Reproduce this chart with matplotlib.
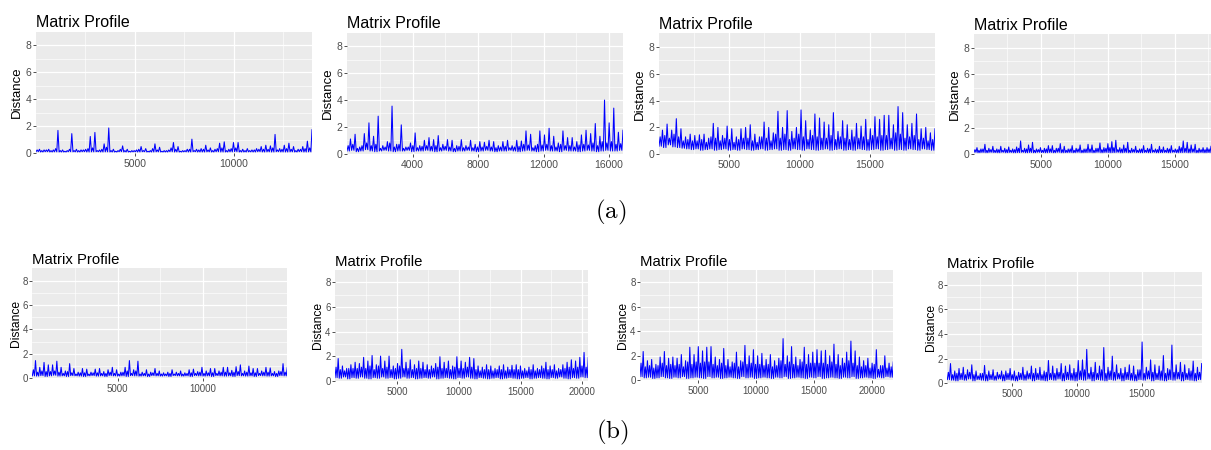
import numpy as np
import matplotlib.pyplot as plt

plt.rcParams['font.family'] = ['Liberation Sans', 'DejaVu Sans']
plt.rcParams['mathtext.fontset'] = 'cm'

W, H = 1211, 450

# matrix profile, one slot per ~4-5 px along the series:
# hi = spike tops, mid = top of the dense band, lo = troughs
hi_1 = [0.3, 0.25, 0.3, 0.25, 1.7, 0.25, 0.2, 1.46, 0.3, 0.25, 0.3, 1.25, 1.55, 0.25, 0.7,
        1.88, 0.3, 0.2, 0.55, 0.3, 0.2, 0.25, 0.5, 0.35, 0.2, 0.7, 0.45, 0.2, 0.25, 0.8,
        0.5, 0.2, 0.3, 1.05, 0.3, 0.35, 0.6, 0.4, 0.3, 0.75, 0.85, 0.3, 0.8, 0.8, 0.3,
        0.35, 0.25, 0.35, 0.5, 0.6, 0.55, 1.4, 0.35, 0.6, 0.75, 0.5, 0.3, 0.5, 0.9, 1.75]
mid_1 = [0.25, 0.2, 0.25, 0.2, 0.35, 0.2, 0.15, 0.3, 0.2, 0.2, 0.25, 0.35, 0.4, 0.2, 0.3,
         0.45, 0.2, 0.15, 0.3, 0.2, 0.15, 0.2, 0.3, 0.2, 0.15, 0.35, 0.25, 0.15, 0.2, 0.4,
         0.3, 0.15, 0.2, 0.3, 0.2, 0.25, 0.3, 0.25, 0.2, 0.35, 0.4, 0.2, 0.35, 0.4, 0.2,
         0.2, 0.2, 0.25, 0.3, 0.3, 0.3, 0.4, 0.25, 0.3, 0.35, 0.3, 0.2, 0.3, 0.35, 0.4]
lo_1 = [0.12, 0.1, 0.12, 0.1, 0.11, 0.1, 0.1, 0.12, 0.11, 0.1, 0.12, 0.1, 0.11, 0.12, 0.1,
        0.11, 0.1, 0.1, 0.12, 0.1, 0.1, 0.11, 0.1, 0.12, 0.1, 0.1, 0.11, 0.1, 0.1, 0.12,
        0.1, 0.1, 0.11, 0.1, 0.12, 0.1, 0.1, 0.11, 0.1, 0.12, 0.1, 0.1, 0.11, 0.12, 0.1,
        0.1, 0.11, 0.1, 0.12, 0.1, 0.11, 0.1, 0.12, 0.1, 0.1, 0.11, 0.1, 0.12, 0.1, 0.11]

hi_2 = [1.1, 1.45, 0.5, 1.5, 2.3, 1.3, 2.8, 0.6, 0.9, 3.55, 0.7, 2.15, 0.5, 0.8, 1.55,
        0.6, 1.0, 1.2, 1.05, 1.35, 0.7, 1.05, 1.0, 0.6, 1.05, 0.6, 1.0, 0.7, 0.9, 0.85,
        1.0, 0.9, 0.6, 0.9, 1.0, 0.6, 1.0, 0.95, 1.7, 1.45, 0.6, 1.7, 1.4, 1.9, 1.3,
        0.8, 1.7, 1.2, 1.2, 0.9, 1.4, 1.75, 1.5, 2.25, 1.3, 4.0, 2.3, 3.4, 1.6, 1.75]
mid_2 = [0.6, 0.7, 0.4, 0.6, 0.8, 0.6, 0.7, 0.4, 0.5, 0.8, 0.5, 0.7, 0.4, 0.5, 0.6,
         0.45, 0.55, 0.6, 0.55, 0.6, 0.45, 0.55, 0.5, 0.4, 0.55, 0.45, 0.5, 0.45, 0.5, 0.5,
         0.55, 0.5, 0.45, 0.5, 0.55, 0.45, 0.5, 0.55, 0.7, 0.65, 0.45, 0.7, 0.65, 0.7, 0.6,
         0.5, 0.7, 0.6, 0.6, 0.5, 0.65, 0.7, 0.65, 0.8, 0.6, 0.9, 0.8, 0.9, 0.7, 0.75]
lo_2 = [0.2, 0.25, 0.15, 0.2, 0.3, 0.2, 0.15, 0.2, 0.25, 0.2, 0.15, 0.2, 0.2, 0.25, 0.15,
        0.2, 0.2, 0.25, 0.2, 0.15, 0.2, 0.25, 0.2, 0.15, 0.2, 0.2, 0.25, 0.2, 0.15, 0.2,
        0.25, 0.2, 0.15, 0.2, 0.2, 0.25, 0.2, 0.15, 0.2, 0.25, 0.2, 0.15, 0.2, 0.25, 0.2,
        0.2, 0.15, 0.25, 0.2, 0.2, 0.15, 0.2, 0.25, 0.2, 0.15, 0.2, 0.25, 0.2, 0.2, 0.25]

hi_3 = [1.8, 2.25, 1.8, 2.65, 1.9, 1.3, 1.5, 1.4, 1.45, 1.5, 1.2, 2.3, 2.0, 1.4, 2.1,
        1.9, 1.3, 1.9, 2.0, 2.2, 1.5, 1.3, 2.4, 2.0, 1.6, 3.2, 2.0, 3.25, 1.7, 2.0,
        3.3, 2.5, 1.8, 3.0, 2.7, 2.4, 2.2, 3.1, 1.7, 2.5, 2.2, 1.8, 2.3, 2.1, 2.6,
        1.9, 2.8, 2.6, 2.9, 2.9, 2.2, 3.55, 3.1, 2.2, 2.3, 3.0, 1.9, 2.0, 1.6, 1.9]
mid_3 = [1.3, 1.4, 1.2, 1.5, 1.3, 1.0, 1.1, 1.0, 1.0, 1.1, 0.9, 1.3, 1.2, 1.0, 1.2,
         1.1, 0.9, 1.1, 1.2, 1.2, 1.0, 0.9, 1.3, 1.2, 1.0, 1.5, 1.2, 1.5, 1.1, 1.2,
         1.5, 1.3, 1.1, 1.4, 1.3, 1.2, 1.2, 1.4, 1.1, 1.3, 1.2, 1.1, 1.3, 1.2, 1.3,
         1.1, 1.4, 1.3, 1.4, 1.4, 1.2, 1.6, 1.5, 1.2, 1.3, 1.4, 1.1, 1.2, 1.0, 1.1]
lo_3 = [0.6, 0.5, 0.7, 0.55, 0.5, 0.45, 0.4, 0.35, 0.4, 0.3, 0.35, 0.4, 0.3, 0.35, 0.4,
        0.3, 0.35, 0.3, 0.4, 0.35, 0.3, 0.35, 0.4, 0.3, 0.35, 0.4, 0.3, 0.35, 0.3, 0.4,
        0.35, 0.3, 0.4, 0.35, 0.3, 0.35, 0.4, 0.3, 0.35, 0.4, 0.3, 0.35, 0.3, 0.4, 0.35,
        0.3, 0.35, 0.4, 0.3, 0.35, 0.4, 0.3, 0.35, 0.3, 0.4, 0.35, 0.3, 0.4, 0.35, 0.3]

hi_4 = [0.5, 0.4, 0.75, 0.45, 0.6, 0.4, 0.6, 0.45, 0.55, 0.4, 0.55, 1.0, 0.45, 0.7, 0.9,
        0.4, 0.5, 0.45, 0.65, 0.65, 0.45, 0.8, 0.6, 0.4, 0.65, 0.45, 0.7, 0.4, 0.75, 0.7,
        0.45, 0.85, 0.5, 0.8, 0.95, 1.05, 0.5, 0.7, 0.9, 0.45, 0.6, 0.4, 0.65, 0.45, 0.75,
        0.4, 0.6, 0.55, 0.45, 0.65, 0.4, 0.6, 1.0, 0.9, 0.7, 0.75, 0.45, 0.5, 0.5, 0.6]
mid_4 = [0.35, 0.3, 0.4, 0.3, 0.35, 0.3, 0.35, 0.3, 0.35, 0.3, 0.35, 0.45, 0.3, 0.4, 0.45,
         0.3, 0.35, 0.3, 0.4, 0.4, 0.3, 0.45, 0.35, 0.3, 0.4, 0.3, 0.4, 0.3, 0.4, 0.4,
         0.3, 0.45, 0.35, 0.45, 0.5, 0.5, 0.35, 0.4, 0.45, 0.3, 0.35, 0.3, 0.4, 0.3, 0.4,
         0.3, 0.35, 0.35, 0.3, 0.4, 0.3, 0.35, 0.5, 0.45, 0.4, 0.4, 0.3, 0.35, 0.35, 0.4]
lo_4 = [0.15, 0.12, 0.14, 0.12, 0.15, 0.13, 0.12, 0.15, 0.12, 0.14, 0.12, 0.13, 0.15, 0.12, 0.14,
        0.12, 0.15, 0.13, 0.12, 0.14, 0.12, 0.15, 0.12, 0.13, 0.14, 0.12, 0.15, 0.12, 0.13, 0.14,
        0.12, 0.15, 0.12, 0.14, 0.12, 0.13, 0.15, 0.12, 0.14, 0.12, 0.15, 0.13, 0.12, 0.14, 0.12,
        0.15, 0.12, 0.13, 0.14, 0.12, 0.15, 0.12, 0.13, 0.14, 0.12, 0.15, 0.12, 0.14, 0.12, 0.13]

hi_5 = [1.45, 0.9, 1.3, 1.1, 1.1, 1.4, 0.9, 0.6, 1.2, 0.8, 0.5, 0.8, 0.75, 0.5, 0.75,
        0.8, 0.55, 0.7, 0.9, 0.7, 0.5, 0.9, 1.45, 0.7, 1.4, 0.5, 0.7, 0.5, 0.8, 0.6,
        0.45, 0.5, 0.7, 0.5, 0.6, 0.45, 0.7, 0.75, 0.55, 0.9, 0.6, 0.8, 0.8, 0.6, 0.9,
        0.9, 0.65, 0.95, 1.1, 0.6, 1.0, 0.8, 0.8, 0.6, 0.9, 0.85, 0.55, 0.6, 1.2, 0.9]
mid_5 = [0.7, 0.5, 0.6, 0.55, 0.55, 0.6, 0.5, 0.4, 0.55, 0.45, 0.35, 0.45, 0.45, 0.35, 0.45,
         0.45, 0.4, 0.4, 0.5, 0.4, 0.35, 0.5, 0.6, 0.4, 0.6, 0.35, 0.4, 0.35, 0.45, 0.4,
         0.35, 0.35, 0.4, 0.35, 0.4, 0.35, 0.4, 0.45, 0.4, 0.5, 0.4, 0.45, 0.45, 0.4, 0.5,
         0.5, 0.45, 0.5, 0.55, 0.4, 0.5, 0.45, 0.45, 0.4, 0.5, 0.5, 0.4, 0.4, 0.55, 0.5]
lo_5 = [0.2, 0.18, 0.22, 0.15, 0.2, 0.25, 0.18, 0.2, 0.15, 0.22, 0.2, 0.18, 0.15, 0.2, 0.22,
        0.18, 0.2, 0.15, 0.22, 0.2, 0.18, 0.2, 0.15, 0.22, 0.2, 0.18, 0.2, 0.15, 0.22, 0.2,
        0.18, 0.2, 0.15, 0.22, 0.2, 0.18, 0.2, 0.15, 0.22, 0.2, 0.18, 0.2, 0.15, 0.22, 0.2,
        0.18, 0.2, 0.15, 0.22, 0.2, 0.18, 0.2, 0.15, 0.22, 0.2, 0.18, 0.2, 0.15, 0.22, 0.2]

hi_6 = [1.8, 1.2, 1.0, 1.3, 1.5, 1.4, 1.9, 1.6, 2.05, 1.3, 2.0, 1.6, 2.0, 1.2, 1.4,
        2.55, 1.5, 1.7, 1.3, 1.6, 1.5, 1.3, 1.2, 1.4, 1.95, 1.5, 1.6, 1.2, 1.95, 1.6,
        1.5, 1.9, 1.8, 1.2, 1.1, 1.3, 1.2, 1.0, 1.2, 1.3, 1.1, 1.25, 1.3, 1.2, 1.0,
        1.1, 1.3, 1.0, 1.2, 1.5, 1.2, 1.3, 1.0, 1.3, 1.5, 1.7, 1.6, 1.9, 2.3, 1.9]
mid_6 = [1.1, 0.9, 0.8, 1.0, 1.0, 1.0, 1.1, 1.0, 1.2, 0.9, 1.2, 1.0, 1.1, 0.9, 1.0,
         1.2, 1.0, 1.0, 0.9, 1.0, 1.0, 0.9, 0.9, 1.0, 1.1, 1.0, 1.0, 0.9, 1.1, 1.0,
         1.0, 1.1, 1.1, 0.9, 0.8, 0.9, 0.9, 0.8, 0.9, 0.9, 0.8, 0.9, 0.9, 0.9, 0.8,
         0.8, 0.9, 0.8, 0.9, 1.0, 0.9, 0.9, 0.8, 0.9, 1.0, 1.1, 1.0, 1.1, 1.2, 1.1]
lo_6 = [0.25, 0.2, 0.3, 0.15, 0.25, 0.2, 0.3, 0.2, 0.15, 0.25, 0.2, 0.3, 0.2, 0.25, 0.15,
        0.2, 0.3, 0.2, 0.25, 0.15, 0.2, 0.25, 0.2, 0.3, 0.15, 0.2, 0.25, 0.2, 0.15, 0.25,
        0.2, 0.3, 0.2, 0.15, 0.25, 0.2, 0.15, 0.2, 0.25, 0.15, 0.2, 0.25, 0.2, 0.15, 0.2,
        0.25, 0.15, 0.2, 0.25, 0.2, 0.15, 0.25, 0.2, 0.3, 0.2, 0.15, 0.25, 0.2, 0.3, 0.25]

hi_7 = [2.35, 1.6, 1.7, 1.3, 1.9, 2.35, 1.8, 1.9, 1.8, 2.1, 1.6, 2.7, 2.1, 2.75, 2.4,
        2.7, 2.75, 1.9, 1.7, 2.6, 1.7, 1.5, 2.3, 1.6, 2.85, 2.0, 2.5, 2.0, 2.2, 1.7,
        2.1, 1.6, 1.8, 3.4, 2.0, 2.75, 1.9, 1.7, 2.7, 2.1, 2.3, 2.5, 2.4, 2.45, 2.0,
        2.95, 2.1, 1.8, 2.3, 3.2, 2.4, 1.9, 1.6, 1.8, 1.4, 2.5, 1.2, 2.0, 1.4, 1.5]
mid_7 = [1.4, 1.1, 1.2, 1.0, 1.2, 1.4, 1.2, 1.3, 1.2, 1.3, 1.1, 1.5, 1.3, 1.5, 1.4,
         1.5, 1.5, 1.3, 1.2, 1.4, 1.2, 1.1, 1.4, 1.1, 1.5, 1.3, 1.4, 1.3, 1.3, 1.2,
         1.3, 1.1, 1.2, 1.6, 1.3, 1.5, 1.3, 1.2, 1.5, 1.3, 1.4, 1.4, 1.4, 1.4, 1.3,
         1.5, 1.3, 1.2, 1.4, 1.6, 1.4, 1.2, 1.1, 1.2, 1.0, 1.3, 0.9, 1.2, 1.0, 1.1]
lo_7 = [0.3, 0.2, 0.25, 0.15, 0.2, 0.3, 0.2, 0.15, 0.25, 0.2, 0.3, 0.15, 0.2, 0.25, 0.2,
        0.15, 0.3, 0.2, 0.25, 0.15, 0.2, 0.25, 0.2, 0.15, 0.3, 0.2, 0.25, 0.15, 0.2, 0.25,
        0.2, 0.15, 0.25, 0.2, 0.3, 0.15, 0.2, 0.25, 0.2, 0.15, 0.25, 0.2, 0.3, 0.15, 0.2,
        0.25, 0.2, 0.15, 0.25, 0.2, 0.3, 0.15, 0.2, 0.25, 0.2, 0.15, 0.25, 0.2, 0.3, 0.25]

hi_8 = [1.6, 1.0, 1.2, 1.3, 1.1, 1.5, 1.0, 0.8, 1.45, 1.0, 1.1, 0.9, 1.0, 1.0, 1.2,
        1.0, 0.9, 1.3, 1.0, 1.4, 1.2, 1.3, 1.0, 1.85, 1.4, 1.2, 1.6, 1.4, 1.5, 1.2,
        1.85, 1.9, 2.75, 1.3, 1.7, 1.4, 2.9, 1.3, 2.2, 1.5, 1.2, 1.3, 1.5, 1.4, 1.1,
        3.35, 1.3, 1.9, 1.5, 1.4, 2.25, 1.2, 3.1, 1.5, 1.7, 1.5, 1.2, 1.8, 1.3, 1.6]
mid_8 = [0.9, 0.7, 0.8, 0.8, 0.7, 0.9, 0.7, 0.6, 0.8, 0.7, 0.7, 0.6, 0.7, 0.7, 0.8,
         0.7, 0.6, 0.8, 0.7, 0.8, 0.8, 0.8, 0.7, 0.9, 0.8, 0.8, 0.9, 0.8, 0.9, 0.8,
         0.9, 1.0, 1.1, 0.8, 0.9, 0.8, 1.1, 0.8, 1.0, 0.9, 0.8, 0.8, 0.9, 0.8, 0.7,
         1.1, 0.8, 1.0, 0.9, 0.8, 1.0, 0.8, 1.1, 0.9, 0.9, 0.9, 0.8, 1.0, 0.8, 0.9]
lo_8 = [0.3, 0.25, 0.2, 0.3, 0.25, 0.35, 0.2, 0.3, 0.25, 0.2, 0.3, 0.25, 0.35, 0.2, 0.3,
        0.25, 0.2, 0.3, 0.25, 0.35, 0.2, 0.3, 0.25, 0.2, 0.3, 0.25, 0.35, 0.2, 0.3, 0.25,
        0.2, 0.3, 0.25, 0.35, 0.2, 0.3, 0.25, 0.2, 0.3, 0.25, 0.35, 0.2, 0.3, 0.25, 0.2,
        0.3, 0.25, 0.35, 0.2, 0.3, 0.25, 0.2, 0.3, 0.25, 0.35, 0.2, 0.3, 0.25, 0.2, 0.3]

# series lengths (x extent) and labelled x ticks
lengths = [13960, 16850, 19630, 17700, 14950, 20480, 21860, 19610]
xticks = [[5000, 10000], [4000, 8000, 12000, 16000], [5000, 10000, 15000],
          [5000, 10000, 15000], [5000, 10000], [5000, 10000, 15000, 20000],
          [5000, 10000, 15000, 20000], [5000, 10000, 15000]]
his = [hi_1, hi_2, hi_3, hi_4, hi_5, hi_6, hi_7, hi_8]
mids = [mid_1, mid_2, mid_3, mid_4, mid_5, mid_6, mid_7, mid_8]
los = [lo_1, lo_2, lo_3, lo_4, lo_5, lo_6, lo_7, lo_8]

# panel boxes in pixels: left, top, right, bottom
boxes = [(36, 32, 312, 153.3), (347, 33, 623, 153.7), (659, 33.3, 935, 154.3),
         (974, 34.3, 1211, 154.3),
         (32.3, 268.3, 287.3, 378.3), (335, 270, 588.3, 380.7), (640, 270, 893.3, 380.3),
         (947.3, 272.3, 1201.7, 383.3)]

fig = plt.figure(figsize=(W / 100, H / 100), dpi=100)

for k in range(8):
    l, t, r, b = boxes[k]
    ax = fig.add_axes([l / W, 1 - b / H, (r - l) / W, (b - t) / H])
    ax.set_facecolor('#EBEBEB')
    row_a = k < 4

    # each slot: trough, band top, trough, spike
    y = [v for q in zip(los[k], mids[k], los[k], his[k]) for v in q]
    x = np.arange(len(y)) * lengths[k] / (len(y) - 1)
    ax.plot(x, y, color='#0000FF', lw=0.75)

    ax.set_xlim(0, lengths[k])
    ax.set_ylim(0, 9)
    for s in ax.spines.values():
        s.set_visible(False)

    step = xticks[k][1] - xticks[k][0]
    ax.set_xticks(xticks[k])
    ax.set_xticks(np.arange(step / 2, lengths[k], step), minor=True)
    ax.set_yticks([0, 2, 4, 6, 8])
    ax.set_yticks([1, 3, 5, 7], minor=True)
    ax.grid(which='major', color='white', lw=0.9)
    ax.grid(which='minor', color='white', lw=0.45)
    ax.set_axisbelow(True)

    ts = 7.5 if row_a else 7
    ax.tick_params(which='major', length=2.2, width=0.6, color='#333333',
                   labelcolor='#4D4D4D', labelsize=ts)
    ax.tick_params(axis='x', pad=2)
    ax.tick_params(axis='y', pad=1)
    ax.tick_params(which='minor', length=0)

    ax.set_ylabel('Distance', fontsize=9.5 if row_a else 8.7, labelpad=2 if row_a else 0.5)
    ax.set_title('Matrix Profile', loc='left', fontsize=11.5 if row_a else 10.7,
                 pad=3.4 if row_a else 3.1)

fig.text(611 / W, 1 - 212.7 / H, r'$\mathrm{(a)}$', fontsize=18, ha='center', va='center')
fig.text(612 / W, 1 - 432 / H, r'$\mathrm{(b)}$', fontsize=18, ha='center', va='center')

fig.savefig('out.png', dpi=100, facecolor='white')
